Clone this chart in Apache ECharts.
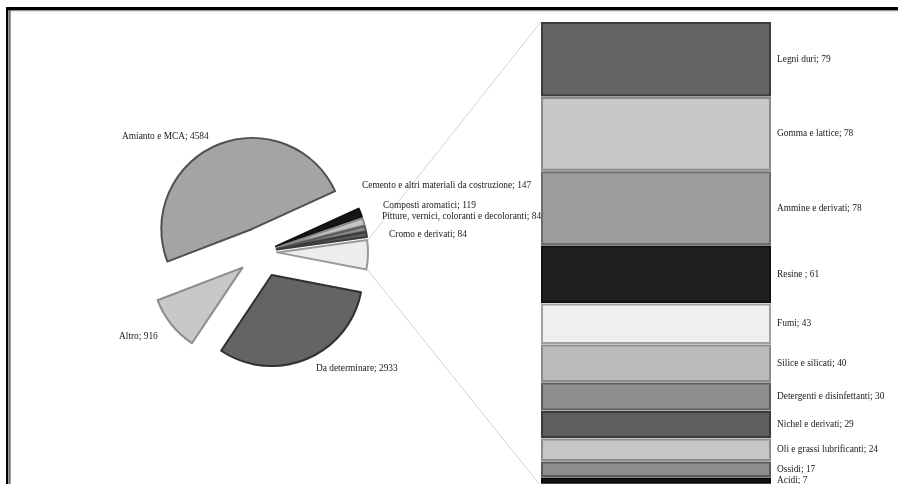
<!DOCTYPE html>
<html>
<head>
<meta charset="utf-8">
<script src="https://cdn.jsdelivr.net/npm/echarts@6/dist/echarts.min.js"></script>
<style>
  html, body { margin: 0; padding: 0; background: #fff; }
  #chart { width: 898px; height: 484px; }
</style>
</head>
<body>
<div id="chart"></div>
<script>
// bar breakdown of the "altri" slice, top to bottom
const barNames = ['Legni duri', 'Gomma e lattice', 'Ammine e derivati', 'Resine ', 'Fumi', 'Silice e silicati',
  'Detergenti e disinfettanti', 'Nichel e derivati', 'Oli e grassi lubrificanti', 'Ossidi', 'Acidi']
const barValues = [79, 78, 78, 61, 43, 40, 30, 29, 24, 17, 7]

const barTotal = barValues.reduce((a, b) => a + b, 0)

// pie, clockwise from the start angle
const pieNames = ['Amianto e MCA', 'Cemento e altri materiali da costruzione', 'Composti aromatici',
  'Pitture, vernici, coloranti e decoloranti', 'Cromo e derivati', 'Altri', 'Da determinare', 'Altro']
const pieValues = [4584, 147, 119, 84, 84, barTotal, 2933, 916]

const pieFill = ['#a4a4a4', '#161616', '#c4c4c4', '#8c8c8c', '#5c5c5c', '#ededed', '#646464', '#c8c8c8']
const pieLine = ['#505050', '#111111', '#8a8a8a', '#5a5a5a', '#3a3a3a', '#9a9a9a', '#303030', '#8c8c8c']
const barFill = ['#646464', '#c8c8c8', '#9c9c9c', '#1e1e1e', '#efefef', '#bcbcbc', '#8e8e8e', '#5e5e5e', '#c6c6c6', '#8e8e8e', '#141414']
const barLine = ['#3c3c3c', '#8a8a8a', '#6e6e6e', '#111111', '#a0a0a0', '#8c8c8c', '#5c5c5c', '#3a3a3a', '#8e8e8e', '#5a5a5a', '#0a0a0a']

const FONT = '"Liberation Serif", "DejaVu Serif", serif'
const CX = 262, CY = 252, R = 91, START = 201
const bigOffset = 25, smallOffset = 15
const bigGroup = ['Amianto e MCA', 'Da determinare', 'Altro']
const GRID = { left: 541, top: 21.7, width: 230, height: 464.5 }

// where excel put the pie labels (left, middle)
const labelSpots = {
  'Amianto e MCA': [122, 137],
  'Cemento e altri materiali da costruzione': [362, 186],
  'Composti aromatici': [383, 206],
  'Pitture, vernici, coloranti e decoloranti': [382, 217],
  'Cromo e derivati': [389, 235],
  'Altro': [119, 337],
  'Da determinare': [316, 369]
}

const pieSeries = (members, offset) => ({
  type: 'pie',
  center: [CX, CY],
  radius: [0, R],
  startAngle: START,
  clockwise: true,
  selectedMode: 'multiple',
  selectedOffset: offset,
  avoidLabelOverlap: false,
  silent: true,
  animation: false,
  emphasis: { disabled: true },
  label: { show: false },
  labelLine: { show: false },
  data: pieNames.map((n, i) => {
    const own = members.includes(n)
    const style = own
      ? { color: pieFill[i], borderColor: pieLine[i], borderWidth: 2 }
      : { color: 'rgba(0,0,0,0)', borderWidth: 0 }
    return { name: n, value: pieValues[i], selected: own, itemStyle: style, select: { itemStyle: style } }
  })
})

const smallGroup = pieNames.filter(n => !bigGroup.includes(n))

// stack starts for the bar segments
const barStarts = []
barValues.reduce((acc, v) => { barStarts.push(acc); return acc + v }, 0)

// connector lines from the "altri" slice to the bar
const total = pieValues.reduce((a, b) => a + b, 0)
const idx = pieNames.indexOf('Altri')
const before = pieValues.slice(0, idx).reduce((a, b) => a + b, 0)
const a1 = (START - 360 * before / total) * Math.PI / 180
const a2 = (START - 360 * (before + barTotal) / total) * Math.PI / 180
const mid = (a1 + a2) / 2
const vx = CX + smallOffset * Math.cos(mid), vy = CY - smallOffset * Math.sin(mid)
const edge = R + 1

const pieLabels = pieNames
  .map((n, i) => ({ n, i }))
  .filter(o => labelSpots[o.n])
  .map(o => ({
    type: 'text',
    x: labelSpots[o.n][0],
    y: labelSpots[o.n][1],
    silent: true,
    style: { text: o.n + '; ' + pieValues[o.i], font: '9.4px ' + FONT, fill: '#1a1a1a', verticalAlign: 'middle', align: 'left' }
  }))

const chart = echarts.init(document.getElementById('chart'))
chart.setOption({
  backgroundColor: '#fff',
  animation: false,
  grid: GRID,
  xAxis: { type: 'category', data: ['Altri'], show: false },
  yAxis: { type: 'value', min: 0, max: barTotal, inverse: true, show: false },
  graphic: [
    // frame
    { type: 'rect', shape: { x: 6, y: 7, width: 892, height: 3.2 }, style: { fill: '#000' } },
    { type: 'rect', shape: { x: 10, y: 10.2, width: 888, height: 1 }, style: { fill: '#888' } },
    { type: 'rect', shape: { x: 6, y: 7, width: 2.4, height: 477 }, style: { fill: '#000' } },
    { type: 'rect', shape: { x: 9.4, y: 10, width: 1, height: 474 }, style: { fill: '#111' } },
    // connectors
    { type: 'line', shape: { x1: vx + edge * Math.cos(a1), y1: vy - edge * Math.sin(a1), x2: GRID.left, y2: GRID.top },
      style: { stroke: '#d4d4d4', lineWidth: 1 } },
    { type: 'line', shape: { x1: vx + edge * Math.cos(a2), y1: vy - edge * Math.sin(a2), x2: GRID.left, y2: GRID.top + GRID.height },
      style: { stroke: '#d4d4d4', lineWidth: 1 } },
    ...pieLabels
  ],
  series: [
    pieSeries(bigGroup, bigOffset),
    pieSeries(smallGroup, smallOffset),
    {
      type: 'custom',
      silent: true,
      encode: { x: 0, y: [1, 2] },
      data: barValues.map((v, i) => [0, barStarts[i], barStarts[i] + v, i]),
      renderItem: (params, api) => {
        const i = api.value(3)
        const a = api.coord([0, api.value(1)])
        const b = api.coord([0, api.value(2)])
        const w = api.size([1, 0])[0]
        const x0 = a[0] - w / 2
        return {
          type: 'group',
          children: [
            { type: 'rect', shape: { x: x0 + 1, y: a[1] + 1.25, width: w - 2, height: b[1] - a[1] - 2.5 },
              style: { fill: barFill[i], stroke: barLine[i], lineWidth: 2 } },
            { type: 'text', x: x0 + w + 6, y: (a[1] + b[1]) / 2,
              style: { text: barNames[i] + '; ' + barValues[i], font: '9.4px ' + FONT, fill: '#1a1a1a',
                verticalAlign: 'middle', align: 'left' } }
          ]
        }
      }
    }
  ]
})
</script>
</body>
</html>
